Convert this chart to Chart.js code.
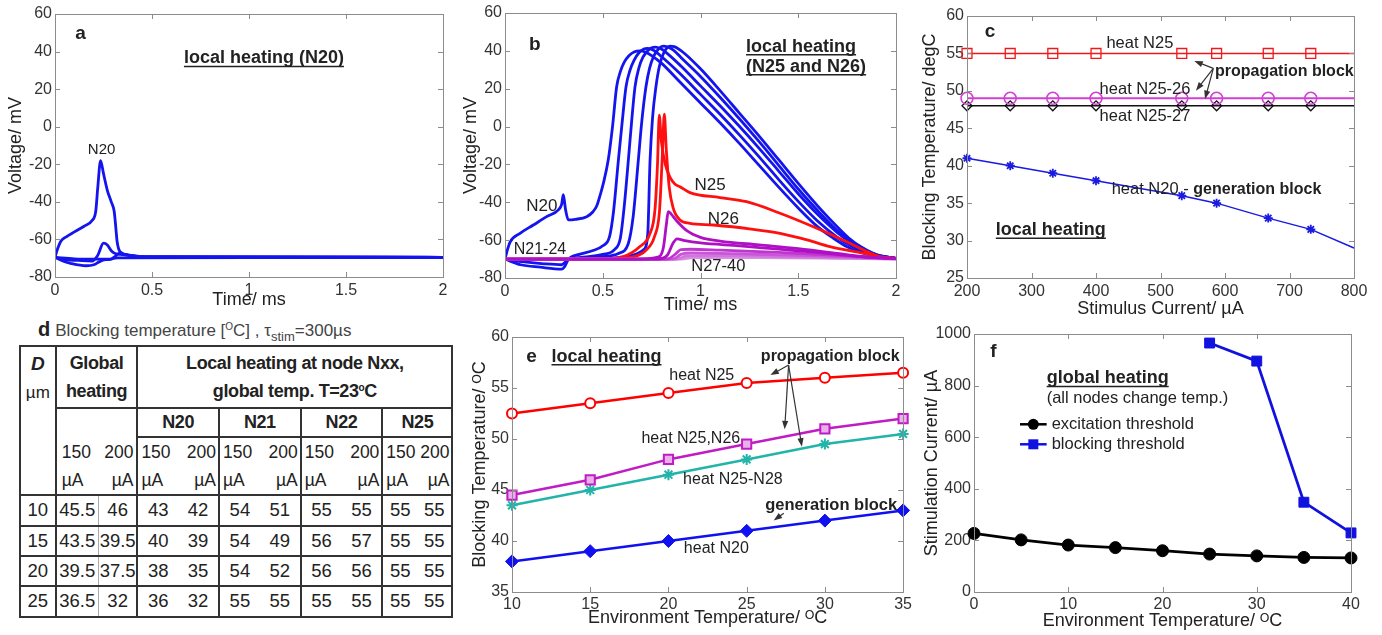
<!DOCTYPE html>
<html>
<head>
<meta charset="utf-8">
<script src="https://cdn.jsdelivr.net/npm/chart.js@4.4.1/dist/chart.umd.min.js"></script>
<style>
html, body { margin: 0; padding: 0; background: #fff; }
body { width: 1382px; height: 635px; position: relative; overflow: hidden; font-family: 'Liberation Sans', Arial, sans-serif; }
canvas { position: absolute; }
#dcap { position: absolute; left: 38px; top: 318px; font-size: 17px; color: #444; white-space: nowrap; line-height: 22px; }
#dcap b { font-size: 20px; color: #222; margin-right: 5px; }
#dcap sub { font-size: 13px; vertical-align: -5px; line-height: 0; }
#dcap sup, #tbl sup { font-size: 10px; vertical-align: 6px; line-height: 0; }
#tbl { position: absolute; left: 19px; top: 345px; width: 433px; border-collapse: collapse; table-layout: fixed; color: #222; }
#tbl td { border: 2px solid #333; padding: 0; text-align: center; font-size: 18.5px; line-height: 20px; white-space: nowrap; overflow: hidden; }
#tbl td.dc { vertical-align: top; line-height: 28px; padding-top: 3px; font-size: 17px; }
#tbl td.dc b { font-size: 19px; }
#tbl td.h { font-weight: bold; font-size: 18px; line-height: 28px; letter-spacing: -0.4px; }
#tbl td.node { font-weight: bold; font-size: 18px; letter-spacing: -0.4px; }
#tbl td.gu { vertical-align: bottom; font-size: 17.5px; line-height: 28px; }
#tbl td.gu div.w { display: flex; justify-content: space-between; padding: 0 3px 0 5px; }
#tbl td.u { vertical-align: bottom; font-size: 17.5px; line-height: 28px; }
#tbl td.l1 { border-right: none; }
#tbl td.l2 { border-left: none; }
#tbl td.u.l1 { text-align: left; padding-left: 3px; }
#tbl td.u.l2 { text-align: right; padding-right: 2px; }
#tbl td.g1 { border-right: 1px solid #aaa; }
#tbl td.g2 { border-left: 1px solid #aaa; }
</style>
</head>
<body>
<canvas id="ca" width="455" height="312" style="left:0;top:0"></canvas>
<canvas id="cb" width="448" height="316" style="left:460px;top:0"></canvas>
<canvas id="cc" width="467" height="320" style="left:915px;top:0"></canvas>
<canvas id="ce" width="455" height="323" style="left:460px;top:312px"></canvas>
<canvas id="cf" width="467" height="323" style="left:915px;top:312px"></canvas>
<div id="dcap"><b>d</b>Blocking temperature [<sup>O</sup>C] , &tau;<sub>stim</sub>=300&micro;s</div>
<table id="tbl"></table>
<script>
// ---- panel a: voltage traces, local heating N20 (time ms, mV)
const aN20 = [[0,-69.5],[0.01,-66],[0.03,-61],[0.06,-58.5],[0.1,-56],[0.15,-53],[0.19,-50],[0.21,-45],[0.22,-33],[0.235,-18],[0.25,-25],[0.27,-34],[0.29,-40],[0.305,-45],[0.312,-52],[0.32,-61],[0.335,-66.5],[0.38,-68.3],[0.5,-69.3],[2,-69.5]];
const aDip = [[0,-69.5],[0.04,-71.5],[0.08,-72.7],[0.16,-74],[0.2,-73.5],[0.23,-71.8],[0.26,-70.8],[0.29,-70.5],[0.31,-69],[0.33,-67.5],[0.36,-68],[0.45,-69.2],[2,-69.5]];
const aHump = [[0,-69.5],[0.05,-70.8],[0.12,-71.2],[0.19,-71.5],[0.22,-68.5],[0.25,-62],[0.27,-63],[0.29,-66],[0.31,-67.5],[0.34,-68],[0.45,-69.3],[2,-69.5]];
const aFlat = [[0,-69.5],[0.1,-70.3],[0.2,-70.5],[0.28,-70.5],[0.32,-69.8],[2,-69.5]];
const aTicksX = [0, 0.5, 1, 1.5, 2];
const aTicksY = [-80, -60, -40, -20, 0, 20, 40, 60];

// ---- panel b: local heating N25 and N26
const bN20 = [[0,-70],[0.01,-66],[0.026,-61],[0.077,-56.4],[0.145,-52],[0.213,-47.6],[0.273,-44],[0.29,-41],[0.298,-36],[0.31,-44],[0.324,-49.3],[0.36,-49],[0.418,-47.6],[0.45,-45],[0.469,-42],[0.49,-35],[0.503,-30],[0.528,-17.7],[0.55,0],[0.571,21],[0.59,29],[0.61,34],[0.635,37.5],[0.66,39.4],[0.69,40],[0.72,39.3],[0.75,37.5],[0.8,33.5],[0.9,23],[1.0,12.5],[1.1,2],[1.2,-9],[1.3,-20.5],[1.4,-32],[1.5,-43],[1.6,-53],[1.68,-59],[1.75,-63.5],[1.82,-66.5],[1.9,-68.6],[2,-69.6]];
const bN21 = [[0,-70],[0.08,-73],[0.18,-74.3],[0.29,-75.3],[0.305,-74],[0.325,-70],[0.38,-67.5],[0.45,-65.5],[0.5,-63],[0.535,-58],[0.555,-45],[0.58,-17.7],[0.6,3],[0.619,21],[0.64,30],[0.66,35],[0.685,39],[0.71,41],[0.73,41.3],[0.76,40.3],[0.8,37],[0.9,27.5],[1.0,17],[1.1,6.5],[1.2,-4.5],[1.3,-16],[1.4,-28],[1.5,-39.5],[1.6,-50],[1.7,-58.5],[1.77,-63],[1.83,-66],[1.9,-68.3],[2,-69.6]];
const bN22 = [[0,-70],[0.1,-71.5],[0.2,-72.5],[0.29,-73],[0.32,-70.5],[0.4,-69],[0.5,-67.5],[0.56,-65],[0.59,-59],[0.61,-42],[0.631,-17.7],[0.648,3],[0.665,21],[0.685,31],[0.705,36.5],[0.73,40],[0.75,41.6],[0.77,42],[0.795,41.2],[0.82,39.5],[0.9,32],[1.0,21.5],[1.1,11],[1.2,0],[1.3,-11.5],[1.4,-23.5],[1.5,-35.5],[1.6,-46.5],[1.7,-56],[1.78,-62],[1.84,-65.7],[1.9,-68],[2,-69.6]];
const bN23 = [[0,-70],[0.3,-70.3],[0.4,-69.5],[0.5,-68.7],[0.58,-67],[0.63,-62],[0.655,-48],[0.682,-17.7],[0.7,3],[0.721,21],[0.74,31],[0.76,37],[0.785,41],[0.81,42.5],[0.835,41.9],[0.86,40.5],[0.9,36.5],[1.0,26.5],[1.1,15.5],[1.2,4],[1.3,-8],[1.4,-20.5],[1.5,-33],[1.6,-44.5],[1.7,-55],[1.77,-60.5],[1.84,-65],[1.9,-67.8],[2,-69.6]];
const bN24 = [[0,-70],[0.4,-70],[0.55,-69.5],[0.65,-68],[0.71,-65],[0.73,-57],[0.742,-17.7],[0.755,5],[0.772,21],[0.79,32],[0.81,38.5],[0.83,41.8],[0.845,42.5],[0.865,42.2],[0.88,41.5],[0.92,38.5],[1.0,30.5],[1.1,19],[1.2,7],[1.3,-5],[1.4,-17.5],[1.5,-30],[1.6,-42],[1.7,-53],[1.76,-59],[1.82,-63.5],[1.88,-66.8],[1.94,-68.7],[2,-69.6]];
const bN25 = [[0,-70],[0.5,-69.8],[0.605,-68.7],[0.69,-63.4],[0.742,-56.4],[0.767,-44],[0.78,-20],[0.789,6],[0.8,-8],[0.82,-20],[0.845,-27],[0.87,-30.5],[0.895,-31.8],[0.946,-34.9],[1.1,-37.5],[1.236,-39.7],[1.4,-45.5],[1.577,-52.9],[1.748,-60.8],[1.85,-66],[1.918,-68.7],[2,-69.6]];
const bN26 = [[0,-70],[0.55,-69.8],[0.65,-69],[0.72,-65.5],[0.765,-58],[0.79,-45],[0.805,-15],[0.815,6.5],[0.825,-12],[0.84,-32],[0.86,-43],[0.895,-49.3],[0.946,-51.1],[1.066,-52],[1.25,-54],[1.407,-56.4],[1.55,-60],[1.662,-63.4],[1.833,-66.9],[1.92,-68.8],[2,-69.7]];
const bN27 = [[0,-70],[0.7,-70],[0.78,-69],[0.81,-64],[0.825,-52],[0.835,-45],[0.86,-47.5],[0.88,-50],[0.93,-55],[1.0,-58.5],[1.1,-60.5],[1.3,-62.5],[1.5,-64.5],[1.7,-67],[1.85,-69],[2,-69.8]];
const bN28 = [[0,-70],[0.78,-70],[0.83,-68],[0.86,-61.5],[0.88,-59.3],[0.92,-60.3],[1.0,-61.5],[1.2,-63],[1.4,-64.8],[1.6,-66.5],[1.8,-68.5],[2,-69.8]];
const bN29 = [[0,-70],[0.83,-70],[0.87,-67.5],[0.9,-65],[0.95,-64.8],[1.1,-65.3],[1.4,-66.5],[1.7,-68],[2,-69.8]];
const bN30 = [[0,-70],[0.86,-70],[0.9,-67.5],[0.95,-66.8],[1.2,-67.2],[1.6,-68.3],[2,-69.9]];
const bN31 = [[0,-70],[0.88,-70],[0.93,-68.3],[1.1,-68.2],[1.5,-68.9],[2,-69.9]];
const bN32 = [[0,-70],[0.9,-70],[0.96,-69.2],[1.3,-69.2],[2,-70]];

// ---- panel c: blocking temperature vs stimulus current
const cCurrent = [200, 267, 333, 400, 533, 587, 667, 733, 800];
const cHeatN25 = [55, 55, 55, 55, 55, 55, 55, 55, 55];
const cHeatN25_26 = [49, 49, 49, 49, 49, 49, 49, 49, 49];
const cHeatN25_27 = [48, 48, 48, 48, 48, 48, 48, 48, 48];
const cHeatN20 = [41, 40, 39, 38, 36, 35, 33, 31.5, 29];
const cTicksX = [200, 300, 400, 500, 600, 700, 800];
const cTicksY = [25, 30, 35, 40, 45, 50, 55, 60];

// ---- panel d: table of blocking temperatures
const dDiam = [10, 15, 20, 25];
const dGlobal150 = ['45.5', '43.5', '39.5', '36.5'];
const dGlobal200 = ['46', '39.5', '37.5', '32'];
const dNodes = ['N20', 'N21', 'N22', 'N25'];
const dLocal150 = [[43, 40, 38, 36], [54, 54, 54, 55], [55, 56, 56, 55], [55, 55, 55, 55]];
const dLocal200 = [[42, 39, 35, 32], [51, 49, 52, 55], [55, 57, 56, 55], [55, 55, 55, 55]];

// ---- panel e: blocking temperature vs environment temperature
const eEnv = [10, 15, 20, 25, 30, 35];
const eHeatN25 = [52.5, 53.5, 54.5, 55.5, 56, 56.5];
const eHeatN25N26 = [44.5, 46, 48, 49.5, 51, 52];
const eHeatN25N28 = [43.5, 45, 46.5, 48, 49.5, 50.5];
const eHeatN20 = [38, 39, 40, 41, 42, 43];
const eTicksX = [10, 15, 20, 25, 30, 35];
const eTicksY = [35, 40, 45, 50, 55, 60];

// ---- panel f: global heating thresholds
const fEnv = [0, 5, 10, 15, 20, 25, 30, 35, 40];
const fExcitation = [227, 202, 182, 172, 160, 147, 140, 134, 132];
const fBlocking = [null, null, null, null, null, 965, 895, 348, 229];
const fTicksX = [0, 10, 20, 30, 40];
const fTicksY = [0, 200, 400, 600, 800, 1000];

const FONT = "'Liberation Sans', Arial, sans-serif";
Chart.defaults.font.family = FONT;
Chart.defaults.color = '#333';

// box, inner tick marks, labels and arrows (matlab look)
const frame = {
  id: 'frame',
  afterDatasetsDraw(chart, args, o) {
    const {ctx, chartArea: ca, scales: {x, y}} = chart;
    ctx.save();
    ctx.strokeStyle = '#8c8c8c';
    ctx.lineWidth = 1;
    ctx.strokeRect(Math.round(ca.left) + 0.5, Math.round(ca.top) + 0.5, Math.round(ca.width), Math.round(ca.height));
    ctx.beginPath();
    x.ticks.forEach(t => {
      const px = Math.round(x.getPixelForValue(t.value)) + 0.5;
      ctx.moveTo(px, ca.bottom); ctx.lineTo(px, ca.bottom - 5);
      ctx.moveTo(px, ca.top); ctx.lineTo(px, ca.top + 5);
    });
    y.ticks.forEach(t => {
      const py = Math.round(y.getPixelForValue(t.value)) + 0.5;
      ctx.moveTo(ca.left, py); ctx.lineTo(ca.left + 5, py);
      ctx.moveTo(ca.right, py); ctx.lineTo(ca.right - 5, py);
    });
    ctx.stroke();

    (o.arrows || []).forEach(a => {
      const x0 = x.getPixelForValue(a.from[0]), y0 = y.getPixelForValue(a.from[1]);
      a.to.forEach(([tx, ty]) => {
        const x1 = x.getPixelForValue(tx), y1 = y.getPixelForValue(ty);
        const ang = Math.atan2(y1 - y0, x1 - x0);
        ctx.strokeStyle = '#333'; ctx.fillStyle = '#333'; ctx.lineWidth = 1.2;
        ctx.beginPath(); ctx.moveTo(x0, y0); ctx.lineTo(x1 - 6 * Math.cos(ang), y1 - 6 * Math.sin(ang)); ctx.stroke();
        ctx.beginPath();
        ctx.moveTo(x1, y1);
        ctx.lineTo(x1 - 9 * Math.cos(ang - 0.35), y1 - 9 * Math.sin(ang - 0.35));
        ctx.lineTo(x1 - 9 * Math.cos(ang + 0.35), y1 - 9 * Math.sin(ang + 0.35));
        ctx.closePath(); ctx.fill();
      });
    });

    (o.legend || []).forEach(l => {
      const x0 = x.getPixelForValue(l.x0), x1 = x.getPixelForValue(l.x1), xm = (x0 + x1) / 2;
      const py = y.getPixelForValue(l.y);
      ctx.strokeStyle = l.color; ctx.fillStyle = l.color; ctx.lineWidth = 2.5;
      ctx.beginPath(); ctx.moveTo(x0, py); ctx.lineTo(x1, py); ctx.stroke();
      ctx.beginPath();
      if (l.marker === 'circle') ctx.arc(xm, py, 5.5, 0, Math.PI * 2);
      else ctx.rect(xm - 5, py - 5, 10, 10);
      ctx.fill();
      ctx.fillStyle = '#222'; ctx.font = '16.5px ' + FONT; ctx.textAlign = 'left'; ctx.textBaseline = 'middle';
      ctx.fillText(l.text, x1 + 5, py);
    });

    (o.texts || []).forEach(t => {
      const px = x.getPixelForValue(t.x), py = y.getPixelForValue(t.y);
      const parts = t.parts || [[t.text, t.bold, t.size]];
      ctx.textBaseline = 'middle';
      ctx.textAlign = 'left';
      let total = 0;
      const runs = parts.map(([s, b, sz]) => {
        const f = (b ? 'bold ' : '') + (sz || 16) + 'px ' + FONT;
        ctx.font = f;
        const w = ctx.measureText(s).width;
        total += w;
        return {s, f, w};
      });
      let cx = t.align === 'left' ? px : px - total / 2;
      const start = cx;
      ctx.fillStyle = t.color || '#222';
      runs.forEach(r => { ctx.font = r.f; ctx.fillText(r.s, cx, py); cx += r.w; });
      if (t.underline) {
        const uy = py + (t.size || 16) * 0.45;
        ctx.strokeStyle = t.color || '#222'; ctx.lineWidth = 1.5;
        ctx.beginPath(); ctx.moveTo(start, uy); ctx.lineTo(start + total, uy); ctx.stroke();
      }
    });
    ctx.restore();
  }
};
Chart.register(frame);

function axis(dir, s) {
  return {
    type: 'linear', min: s.min, max: s.max,
    afterBuildTicks: sc => { sc.ticks = s.ticks.map(v => ({value: v})); },
    ticks: {color: '#333', font: {size: 16}, padding: s.pad, maxRotation: 0, autoSkip: false, callback: v => String(v)},
    grid: {display: false, drawTicks: false},
    border: {display: false},
    title: {display: true, text: s.title, color: '#222', font: {size: 18},
      padding: dir === 'x' ? {top: 0, bottom: s.tp} : {top: s.tp, bottom: 0}},
    afterFit: sc => { if (dir === 'x') sc.height = s.size; else sc.width = s.size; }
  };
}

function make(id, pad, sx, sy, datasets, frameOpts) {
  return new Chart(document.getElementById(id), {
    type: 'scatter',
    data: {datasets},
    options: {
      responsive: false, animation: false, devicePixelRatio: 1,
      layout: {padding: {left: 0, top: pad.top, right: pad.right, bottom: 0}},
      plugins: {legend: {display: false}, tooltip: {enabled: false}, frame: frameOpts},
      scales: {x: axis('x', sx), y: axis('y', sy)}
    }
  });
}

const trace = (pts, color, w) => ({
  data: pts.map(([x, y]) => ({x, y})), borderColor: color, borderWidth: w || 2.8,
  pointRadius: 0, showLine: true, fill: false, cubicInterpolationMode: 'monotone'
});
const series = (xs, ys, o) => Object.assign({
  data: xs.map((x, i) => ({x, y: ys[i]})), showLine: true, fill: false, tension: 0, clip: false
}, o);

const BLUE = '#1414ee', RED = '#ff1010';

// panel a
make('ca', {top: 14, right: 12},
  {min: 0, max: 2, ticks: aTicksX, title: 'Time/ ms', size: 35, tp: 1, pad: 4},
  {min: -80, max: 60, ticks: aTicksY, title: 'Voltage/ mV', size: 55, tp: 5, pad: 3},
  [trace(aN20, BLUE), trace(aDip, BLUE), trace(aHump, BLUE), trace(aFlat, BLUE)],
  {texts: [
    {x: 0.131, y: 49.7, text: 'a', bold: true, size: 19},
    {x: 1.077, y: 36.4, text: 'local heating (N20)', bold: true, size: 18, underline: true},
    {x: 0.24, y: -12.4, text: 'N20', size: 15}
  ]});

// panel b
const MAG = '#b010c4';
make('cb', {top: 13, right: 12},
  {min: 0, max: 2, ticks: aTicksX, title: 'Time/ ms', size: 38, tp: 0, pad: 4},
  {min: -80, max: 60, ticks: aTicksY, title: 'Voltage/ mV', size: 45, tp: 0, pad: 3},
  [trace(bN27, MAG), trace(bN28, MAG), trace(bN29, '#bf35cf'), trace(bN30, '#c955d8'),
   trace(bN31, '#d276df'), trace(bN32, '#d98ee4'),
   trace(bN25, RED), trace(bN26, RED),
   trace(bN20, BLUE), trace(bN21, BLUE), trace(bN22, BLUE), trace(bN23, BLUE), trace(bN24, BLUE)],
  {texts: [
    {x: 0.153, y: 43.3, text: 'b', bold: true, size: 19},
    {x: 1.233, y: 42.2, text: 'local heating', bold: true, size: 18, underline: true, align: 'left'},
    {x: 1.233, y: 31.6, text: '(N25 and N26)', bold: true, size: 18, underline: true, align: 'left'},
    {x: 0.188, y: -42.3, text: 'N20', size: 17},
    {x: 0.179, y: -65.2, text: 'N21-24', size: 16},
    {x: 1.049, y: -30.9, text: 'N25', size: 17},
    {x: 1.117, y: -49, text: 'N26', size: 17},
    {x: 1.091, y: -74, text: 'N27-40', size: 16.5}
  ]});

// panel c
const lastOff = (r) => cCurrent.map((v, i) => i === cCurrent.length - 1 ? 0 : r);
make('cc', {top: 16, right: 28},
  {min: 200, max: 800, ticks: cTicksX, title: 'Stimulus Current/ \u00b5A', size: 42, tp: 0, pad: 4},
  {min: 25, max: 60, ticks: cTicksY, title: 'Blocking Temperature/ degC', size: 52, tp: 4, pad: 3},
  [series(cCurrent, cHeatN25, {borderColor: '#f01818', borderWidth: 1.5, pointStyle: 'rect', pointRadius: lastOff(7), pointBorderWidth: 1.3, pointBorderColor: '#f01818', pointBackgroundColor: 'rgba(0,0,0,0)'}),
   series(cCurrent, cHeatN25_26, {borderColor: '#d040d4', borderWidth: 2, pointStyle: 'circle', pointRadius: lastOff(6), pointBorderWidth: 1.5, pointBorderColor: '#d040d4', pointBackgroundColor: 'rgba(0,0,0,0)'}),
   series(cCurrent, cHeatN25_27, {borderColor: '#111', borderWidth: 1.5, pointStyle: 'rectRot', pointRadius: lastOff(5), pointBorderWidth: 1.3, pointBorderColor: '#111', pointBackgroundColor: 'rgba(0,0,0,0)'}),
   series(cCurrent, cHeatN20, {borderColor: '#1a1ae0', borderWidth: 1.5, pointStyle: 'star', pointRadius: lastOff(4.5), pointBorderWidth: 1.8, pointBorderColor: '#1a1ae0'})],
  {texts: [
    {x: 235.7, y: 57.9, text: 'c', bold: true, size: 19},
    {x: 468, y: 56.35, text: 'heat N25', size: 16.5},
    {x: 584.5, y: 52.6, text: 'propagation block', bold: true, size: 16, align: 'left'},
    {x: 476, y: 50.2, text: 'heat N25-26', size: 16.5},
    {x: 476, y: 46.6, text: 'heat N25-27', size: 16.5},
    {x: 424.3, y: 36.85, parts: [['heat N20 - ', false, 16.5], ['generation block', true, 16]], align: 'left'},
    {x: 330, y: 31.4, text: 'local heating', bold: true, size: 18, underline: true}
  ],
  arrows: [{from: [581.9, 53], to: [[552.4, 54], [555, 50.03], [569, 48.9]]}]});

// panel e
make('ce', {top: 25, right: 10},
  {min: 10, max: 35, ticks: eTicksX, title: 'Environment Temperature/ \u1D3CC', size: 43, tp: 6, pad: 3},
  {min: 35, max: 60, ticks: eTicksY, title: 'Blocking Temperature/ \u1D3CC', size: 52, tp: 9, pad: 3},
  [series(eEnv, eHeatN25, {borderColor: '#ff0000', borderWidth: 2.5, pointStyle: 'circle', pointRadius: 5, pointBorderWidth: 2, pointBorderColor: '#ff0000', pointBackgroundColor: '#fff'}),
   series(eEnv, eHeatN25N26, {borderColor: '#c01cc4', borderWidth: 2.5, pointStyle: 'rect', pointRadius: 6.5, pointBorderWidth: 2, pointBorderColor: '#c01cc4', pointBackgroundColor: '#eab0ea'}),
   series(eEnv, eHeatN25N28, {borderColor: '#22b4a8', borderWidth: 2.5, pointStyle: 'star', pointRadius: 5.5, pointBorderWidth: 2, pointBorderColor: '#22b4a8'}),
   series(eEnv, eHeatN20, {borderColor: '#1010f0', borderWidth: 2.5, pointStyle: 'rectRot', pointRadius: 6.5, pointBorderWidth: 1, pointBorderColor: '#1010f0', pointBackgroundColor: '#1010f0'})],
  {texts: [
    {x: 11.25, y: 58.07, text: 'e', bold: true, size: 19},
    {x: 16.04, y: 58.07, text: 'local heating', bold: true, size: 18, underline: true},
    {x: 30.34, y: 58.07, text: 'propagation block', bold: true, size: 16},
    {x: 22.13, y: 56.18, text: 'heat N25', size: 16},
    {x: 21.43, y: 50.07, text: 'heat N25,N26', size: 16},
    {x: 24.12, y: 45.98, text: 'heat N25-N28', size: 16},
    {x: 30.4, y: 43.53, text: 'generation block', bold: true, size: 16.5},
    {x: 23.06, y: 39.28, text: 'heat N20', size: 16}
  ],
  arrows: [{from: [27.68, 57.25], to: [[26.52, 56.27], [27.43, 50.95], [28.53, 49.25]]},
           {from: [27.37, 42.72], to: [[26.73, 42.0]]}]});

// panel f
make('cf', {top: 22, right: 31},
  {min: 0, max: 40, ticks: fTicksX, title: 'Environment Temperature/ \u1D3CC', size: 43, tp: 3.5, pad: 3},
  {min: 0, max: 1000, ticks: fTicksY, title: 'Stimulation Current/ \u00b5A', size: 59, tp: 6, pad: 3},
  [series(fEnv, fExcitation, {borderColor: '#000', borderWidth: 2.8, pointStyle: 'circle', pointRadius: 6, pointBorderWidth: 1, pointBorderColor: '#000', pointBackgroundColor: '#000'}),
   series(fEnv, fBlocking, {borderColor: '#1212e0', borderWidth: 2.8, pointStyle: 'rect', pointRadius: 7, pointBorderWidth: 1, pointBorderColor: '#1212e0', pointBackgroundColor: '#1212e0'})],
  {texts: [
    {x: 2.05, y: 930, text: 'f', bold: true, size: 19},
    {x: 7.71, y: 828, text: 'global heating', bold: true, size: 18, underline: true, align: 'left'},
    {x: 7.71, y: 750.6, text: '(all nodes change temp.)', size: 16.5, align: 'left'}
  ],
  legend: [
    {x0: 4.88, x1: 7.71, y: 650, color: '#000', marker: 'circle', text: 'excitation threshold'},
    {x0: 4.88, x1: 7.71, y: 572.5, color: '#1212e0', marker: 'rect', text: 'blocking threshold'}
  ]});

// panel d table
(function () {
  const widths = [35.7, 42.7, 39, 40.8, 40.8, 40.8, 40.9, 40.8, 40.9, 35, 35];
  let h = '<colgroup>' + widths.map(w => '<col style="width:' + w + 'px">').join('') + '</colgroup>';
  h += '<tr style="height:61.7px"><td rowspan="3" class="dc"><b><i>D</i></b><br>\u00b5m</td>' +
       '<td colspan="2" class="h">Global<br>heating</td>' +
       '<td colspan="8" class="h">Local heating at node Nxx,<br>global temp. T=23<sup>o</sup>C</td></tr>';
  h += '<tr style="height:29.3px"><td colspan="2" rowspan="2" class="gu"><div class="w"><div style="text-align:left">150<br>\u00b5A</div><div style="text-align:right">200<br>\u00b5A</div></div></td>' +
       dNodes.map(n => '<td colspan="2" class="node">' + n + '</td>').join('') + '</tr>';
  h += '<tr style="height:56.7px">' + dNodes.map(() => '<td class="u l1">150<br>\u00b5A</td><td class="u l2">200<br>\u00b5A</td>').join('') + '</tr>';
  const rh = [30.6, 30, 30.7, 30.3];
  dDiam.forEach((d, i) => {
    h += '<tr style="height:' + rh[i] + 'px"><td>' + d + '</td><td class="g1">' + dGlobal150[i] + '</td><td class="g2">' + dGlobal200[i] + '</td>' +
         dNodes.map((n, k) => '<td class="l1">' + dLocal150[k][i] + '</td><td class="l2">' + dLocal200[k][i] + '</td>').join('') + '</tr>';
  });
  document.getElementById('tbl').innerHTML = h;
})();
</script>
</body>
</html>
